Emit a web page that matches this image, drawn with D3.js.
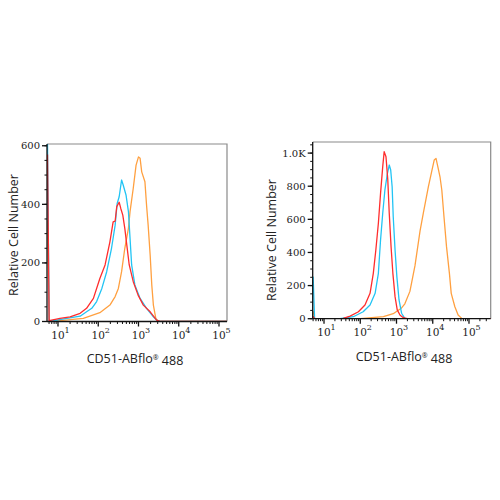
<!DOCTYPE html>
<html>
<head>
<meta charset="utf-8">
<script src="https://cdn.jsdelivr.net/npm/d3@7"></script>
<style>
  body { margin: 0; background: #fff; }
  svg { display: block; }
</style>
</head>
<body>
<div id="chart"></div>
<script>
// data: [log10 intensity, cell count]
const leftRed = [[0.74, 570], [0.78, 3], [1.05, 11], [1.30, 16], [1.55, 28], [1.71, 45], [1.88, 79], [2.04, 147], [2.17, 193], [2.29, 272], [2.37, 340], [2.42, 343], [2.46, 392], [2.52, 407], [2.56, 386], [2.61, 363], [2.66, 318], [2.71, 261], [2.77, 193], [2.87, 136], [2.99, 90], [3.12, 56], [3.29, 33], [3.45, 5], [3.55, 0], [5.25, 0]];
const leftCyan = [[0.74, 610], [0.78, 0], [1.22, 11], [1.55, 18], [1.71, 33], [1.84, 45], [1.96, 68], [2.09, 113], [2.21, 170], [2.33, 250], [2.42, 329], [2.47, 403], [2.52, 426], [2.58, 483], [2.62, 466], [2.69, 432], [2.75, 375], [2.79, 284], [2.83, 193], [2.91, 125], [3.04, 79], [3.20, 45], [3.37, 16], [3.45, 5], [3.55, 0], [5.25, 0]];
const leftOrange = [[0.74, 346], [0.78, 0], [1.05, 3], [1.63, 11], [2.04, 30], [2.29, 56], [2.42, 85], [2.50, 113], [2.58, 170], [2.66, 250], [2.75, 318], [2.79, 375], [2.87, 455], [2.94, 534], [3.00, 562], [3.04, 557], [3.08, 511], [3.16, 477], [3.20, 398], [3.24, 329], [3.29, 227], [3.33, 125], [3.37, 56], [3.43, 11], [3.49, 0], [5.25, 0]];

const rightRed = [[0.70, 15], [0.74, 0], [1.07, 0], [1.53, 2], [1.72, 16], [1.95, 42], [2.13, 83], [2.27, 153], [2.36, 274], [2.43, 415], [2.50, 576], [2.56, 757], [2.62, 918], [2.66, 1009], [2.71, 978], [2.76, 838], [2.80, 637], [2.85, 435], [2.90, 274], [2.96, 133], [3.02, 53], [3.10, 21], [3.19, 6], [3.30, 0], [5.65, 0]];
const rightCyan = [[0.70, 254], [0.74, 0], [1.44, 0], [1.81, 12], [2.08, 42], [2.27, 83], [2.41, 153], [2.50, 274], [2.56, 475], [2.62, 637], [2.68, 777], [2.75, 878], [2.80, 928], [2.84, 898], [2.88, 797], [2.91, 616], [2.96, 415], [3.01, 254], [3.07, 113], [3.14, 33], [3.23, 2], [3.35, 0], [5.65, 0]];
const rightOrange = [[0.70, 45], [0.74, 0], [2.0, 0], [2.64, 12], [2.91, 30], [3.14, 65], [3.23, 90], [3.37, 165], [3.51, 320], [3.65, 530], [3.74, 637], [3.81, 717], [3.88, 797], [3.97, 888], [4.04, 958], [4.09, 968], [4.14, 918], [4.20, 857], [4.25, 777], [4.31, 616], [4.38, 435], [4.46, 274], [4.51, 153], [4.61, 72], [4.70, 22], [4.80, 2], [4.90, 0], [5.65, 0]];

const leftYTicks = [0, 200, 400, 600];
const rightYTicks = [0, 200, 400, 600, 800, 1000];
const rightYLabels = ["0", "200", "400", "600", "800", "1.0K"];
const xDecades = [1, 2, 3, 4, 5];
const xTitle = "CD51-ABflo";
const yTitle = "Relative Cell Number";

const COLORS = { red: "#ff2d2d", cyan: "#22c4f4", orange: "#ffa040" };

const svg = d3.select("#chart").append("svg")
    .attr("width", 500)
    .attr("height", 500);

// draw one histogram panel
function drawPanel(opt) {
    const x = d3.scaleLinear().domain(opt.xDomain).range([opt.left, opt.right]);
    const y = d3.scaleLinear().domain(opt.yDomain).range([opt.bottom, opt.top]);
    const g = svg.append("g");

    // clip
    g.append("clipPath").attr("id", opt.id)
        .append("rect")
        .attr("x", opt.left).attr("y", opt.top)
        .attr("width", opt.right - opt.left).attr("height", opt.bottom - opt.top);

    // grey frame (top / right)
    g.append("path")
        .attr("d", `M${opt.left},${opt.top}H${opt.right}V${opt.bottom}`)
        .attr("fill", "none")
        .attr("stroke", "#8a8a8a")
        .attr("stroke-width", 1.2);

    const line = d3.line()
        .x(d => x(d[0]))
        .y(d => y(d[1]));

    const curves = g.append("g").attr("clip-path", `url(#${opt.id})`);
    [[opt.orange, COLORS.orange], [opt.cyan, COLORS.cyan], [opt.red, COLORS.red]].forEach(function (c) {
        curves.append("path")
            .datum(c[0])
            .attr("fill", "none")
            .attr("stroke", c[1])
            .attr("stroke-width", 1.3)
            .attr("stroke-linejoin", "round")
            .attr("d", line);
    });

    // y axis
    const yMinor = d3.range(0, opt.yDomain[1], 50);
    const yAxis = g.append("g");
    yAxis.append("line")
        .attr("x1", opt.left).attr("x2", opt.left)
        .attr("y1", opt.top).attr("y2", opt.bottom)
        .attr("stroke", "#111").attr("stroke-width", 1.3);
    yAxis.selectAll(".ym").data(yMinor).enter().append("line")
        .attr("x1", opt.left - 2.5).attr("x2", opt.left)
        .attr("y1", d => y(d)).attr("y2", d => y(d))
        .attr("stroke", "#111").attr("stroke-width", 1);
    yAxis.selectAll(".yM").data(opt.yTicks).enter().append("line")
        .attr("x1", opt.left - 5).attr("x2", opt.left)
        .attr("y1", d => y(d)).attr("y2", d => y(d))
        .attr("stroke", "#111").attr("stroke-width", 1.3);
    yAxis.selectAll(".yl").data(opt.yTicks).enter().append("text")
        .attr("x", opt.left - 7)
        .attr("y", d => y(d))
        .attr("dy", "0.35em")
        .attr("text-anchor", "end")
        .style("font-family", "'DejaVu Serif', serif")
        .style("font-size", "10px")
        .attr("fill", "#222")
        .text((d, i) => opt.yLabels[i]);

    // x axis (log decades)
    const xMinor = [];
    for (let p = 0; p <= 5; p++) {
        for (let k = 2; k <= 9; k++) {
            const v = p + Math.log10(k);
            if (v > opt.xDomain[0] && v < opt.xDomain[1]) xMinor.push(v);
        }
    }
    const xAxis = g.append("g");
    xAxis.append("line")
        .attr("x1", opt.left).attr("x2", opt.right)
        .attr("y1", opt.bottom).attr("y2", opt.bottom)
        .attr("stroke", "#111").attr("stroke-width", 1.3);
    xAxis.selectAll(".xm").data(xMinor).enter().append("line")
        .attr("x1", d => x(d)).attr("x2", d => x(d))
        .attr("y1", opt.bottom).attr("y2", opt.bottom + 2.5)
        .attr("stroke", "#111").attr("stroke-width", 1);
    xAxis.selectAll(".xM").data(xDecades).enter().append("line")
        .attr("x1", d => x(d)).attr("x2", d => x(d))
        .attr("y1", opt.bottom).attr("y2", opt.bottom + 5)
        .attr("stroke", "#111").attr("stroke-width", 1.3);
    xAxis.selectAll(".xl").data(xDecades).enter().append("text")
        .attr("x", d => x(d))
        .attr("y", opt.bottom + 17)
        .attr("text-anchor", "middle")
        .style("font-family", "'DejaVu Serif', serif")
        .style("font-size", "10.5px")
        .attr("fill", "#222")
        .text("10");
    xAxis.selectAll(".xs").data(xDecades).enter().append("text")
        .attr("x", d => x(d) + 6.5)
        .attr("y", opt.bottom + 11)
        .style("font-family", "'DejaVu Serif', serif")
        .style("font-size", "8px")
        .attr("fill", "#222")
        .text(d => d);

    // titles
    const xt = g.append("text")
        .attr("x", opt.xTitleX)
        .attr("y", opt.xTitleY)
        .attr("text-anchor", "middle")
        .style("font-family", "'Open Sans', sans-serif")
        .style("font-size", "12.5px")
        .attr("fill", "#222");
    xt.append("tspan").text(xTitle);
    xt.append("tspan").attr("dy", "-0.45em").style("font-size", "7px").text("®");
    xt.append("tspan").attr("dy", "0.45em").text(" 488");

    g.append("text")
        .attr("transform", `translate(${opt.yTitleX},${opt.yTitleY}) rotate(-90)`)
        .attr("text-anchor", "middle")
        .style("font-family", "'Open Sans', sans-serif")
        .style("font-size", "12.5px")
        .attr("fill", "#222")
        .text(yTitle);
}

drawPanel({
    id: "clipL",
    left: 47, right: 227, top: 144, bottom: 321.5,
    xDomain: [0.727, 5.199], yDomain: [0, 606],
    yTicks: leftYTicks, yLabels: leftYTicks.map(String),
    red: leftRed, cyan: leftCyan, orange: leftOrange,
    xTitleX: 135, xTitleY: 363, yTitleX: 18, yTitleY: 235
});

drawPanel({
    id: "clipR",
    left: 312.7, right: 490.7, top: 142, bottom: 318.7,
    xDomain: [0.688, 5.599], yDomain: [0, 1067],
    yTicks: rightYTicks, yLabels: rightYLabels,
    red: rightRed, cyan: rightCyan, orange: rightOrange,
    xTitleX: 404, xTitleY: 361, yTitleX: 276, yTitleY: 240
});
</script>
</body>
</html>
